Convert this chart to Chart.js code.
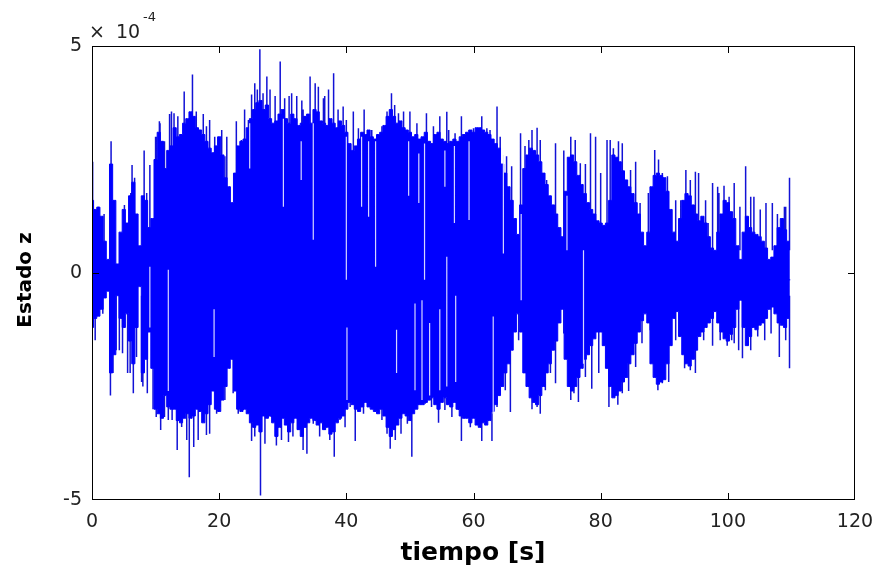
<!DOCTYPE html>
<html>
<head>
<meta charset="utf-8">
<script src="https://cdn.jsdelivr.net/npm/chart.js@4"></script>
<style>
html,body{margin:0;padding:0;background:#fff;}
#wrap{width:884px;height:577px;}
</style>
</head>
<body>
<div id="wrap"><canvas id="c" width="884" height="577"></canvas></div>
<script>
// values are in units of 1e-4 (axis multiplier shown as "× 10^-4")
const X_TICKS = [0, 20, 40, 60, 80, 100, 120];
const Y_TICKS = [-5, 0, 5];
const X_LABEL = 'tiempo [s]';
const Y_LABEL = 'Estado z';

// core band of the oscillation, one value every 0.5 s (t = 0 .. 109.5 s)
const DT = 0.5;
const envHi = [
  1.6,1.4,1.45,1.25,0.7,0.3,2.4,1.6,0.2,0.9, 1.4,1.1,1.7,2.0,1.3,0.6,1.7,1.6,1.0,1.2,
  2.5,3.1,2.9,2.3,2.7,2.8,3.2,3.0,3.05,3.3, 3.4,3.55,3.45,3.2,3.15,3.05,2.9,2.75,2.65,2.8,
  3.0,2.6,2.1,1.9,1.55,2.2,2.8,2.9,2.95,3.2, 3.4,3.6,3.75,3.8,3.6,3.7,3.4,3.3,3.35,3.5,
  3.6,3.4,3.3,3.5,3.4,3.25,3.3,3.45,3.5,3.3, 3.6,3.55,3.35,3.3,3.25,3.4,3.3,3.2,3.35,3.25,
  3.1,2.85,2.7,2.8,2.95,3.1,3.05,3.15,3.0,2.95, 3.05,3.1,3.25,3.45,3.6,3.45,3.3,3.35,3.2,3.15,
  3.1,3.0,3.05,2.95,3.0,3.1,2.9,2.85,3.05,3.1, 2.95,2.9,2.85,2.9,2.95,2.9,3.0,3.05,3.1,3.15,
  3.1,3.2,3.2,3.15,3.1,3.05,2.95,2.85,2.75,2.4, 2.2,1.9,1.6,1.2,0.85,1.5,2.3,2.6,2.75,2.7,
  2.6,2.45,2.2,1.95,1.7,1.5,1.3,1.0,0.8,1.8, 2.55,2.6,2.45,2.15,1.95,1.75,1.55,1.4,1.3,1.15,
  1.1,1.05,1.1,1.6,2.6,2.55,2.45,2.25,2.05,1.9, 1.75,1.55,1.3,0.9,0.6,0.9,1.9,2.15,2.2,2.15,
  2.1,1.8,1.4,0.9,0.7,1.2,1.6,1.75,1.7,1.5, 1.3,1.15,1.25,1.1,0.8,0.55,0.5,0.9,1.3,1.6,
  1.55,1.35,1.2,0.6,0.3,0.9,1.25,1.0,0.9,0.85, 0.8,0.7,0.55,0.3,0.35,0.6,1.0,1.2,0.95,0.7];
const envLo = [
  -1.2,-1.0,-0.95,-0.8,-0.55,-0.4,-2.2,-1.8,-0.5,-1.0, -1.2,-0.9,-1.5,-2.0,-1.2,-0.3,-2.2,-1.9,-1.3,-2.1,
  -3.0,-3.1,-3.2,-2.7,-2.95,-3.0,-3.0,-3.25,-3.3,-3.2, -3.1,-3.2,-3.15,-3.0,-3.05,-3.3,-3.1,-2.9,-2.6,-3.0,
  -3.05,-2.8,-2.5,-2.1,-1.9,-2.6,-3.0,-3.05,-3.0,-3.1, -3.3,-3.4,-3.35,-3.5,-3.15,-3.2,-3.15,-3.3,-3.6,-3.4,
  -3.2,-3.35,-3.5,-3.3,-3.2,-3.45,-3.6,-3.4,-3.3,-3.2, -3.25,-3.35,-3.3,-3.45,-3.4,-3.55,-3.5,-3.3,-3.2,-3.15,
  -3.0,-2.85,-2.9,-3.0,-3.05,-2.95,-2.85,-2.95,-3.0,-3.05, -3.1,-3.0,-3.15,-3.4,-3.6,-3.45,-3.35,-3.2,-3.1,-3.15,
  -3.25,-3.1,-3.0,-2.9,-2.9,-2.85,-2.8,-2.75,-2.9,-3.0, -2.85,-2.75,-2.9,-2.95,-2.85,-3.0,-3.15,-3.2,-3.2,-3.3,
  -3.2,-3.35,-3.4,-3.3,-3.35,-3.25,-3.05,-2.9,-2.7,-2.5, -2.2,-2.0,-1.7,-1.3,-0.9,-1.3,-2.2,-2.5,-2.75,-2.85,
  -2.9,-2.7,-2.5,-2.2,-2.0,-1.7,-1.5,-1.1,-0.8,-1.9, -2.5,-2.6,-2.5,-2.3,-2.1,-1.9,-1.8,-1.6,-1.45,-1.3,
  -1.3,-1.6,-2.1,-2.5,-2.75,-2.7,-2.6,-2.4,-2.3,-2.0, -1.8,-1.55,-1.3,-1.05,-0.9,-1.1,-2.0,-2.3,-2.45,-2.4,
  -2.35,-2.0,-1.6,-1.0,-0.85,-1.4,-1.8,-2.0,-2.05,-1.9, -1.7,-1.4,-1.3,-1.2,-1.1,-1.0,-0.85,-1.1,-1.3,-1.45,
  -1.5,-1.35,-1.2,-0.8,-0.6,-1.2,-1.6,-1.4,-1.2,-1.25, -1.15,-1.1,-1.0,-0.8,-0.75,-0.9,-1.1,-1.15,-1.2,-1.0];
const END_T = 109.8, END_V = -0.15;

// individual positive peaks standing out of the band (time s, value)
const upT = [0.1,1.0,1.9,3.0,5.1,6.1,6.3,6.7,8.2,8.6,9.1,10.0,10.1,10.6,10.7,11.2,11.4,12.2,12.5,12.9,13.5,14.5,15.1,15.8,16.4,17.5,18.0,18.5,19.3,
  20.4,20.9,21.2,21.7,22.7,23.5,24.0,24.6,25.1,25.6,26.0,26.4,26.9,27.5,28.0,28.8,29.6,30.3,31.0,31.4,32.2,33.0,33.2,34.3,35.1,35.6,36.4,36.6,37.2,38.0,38.7,39.5,40.0,
  41.1,41.9,42.8,44.0,45.6,46.4,47.1,47.6,48.2,49.0,50.0,51.1,52.6,53.7,54.7,55.8,56.1,57.1,58.1,60.0,
  61.3,62.1,62.6,63.7,64.2,65.2,66.0,67.4,68.1,68.7,69.2,70.0,70.5,71.5,72.9,74.2,75.3,76.0,76.8,77.6,78.4,79.2,80.0,81.0,
  81.5,82.0,82.8,83.4,84.1,84.7,85.5,86.2,87.5,88.5,89.1,89.7,90.5,91.8,92.6,93.4,94.1,94.9,95.4,96.5,96.9,97.6,98.4,98.6,99.4,99.9,100.2,101.0,101.9,
  102.8,103.6,104.1,105.1,106.0,107.0,107.8,108.9,109.1,109.7];
const upV = [2.45,1.46,1.3,2.9,1.5,1.76,2.38,2.1,2.7,1.76,2.38,3.0,3.0,3.34,3.3,2.8,2.9,3.5,3.56,3.52,3.45,4.0,3.37,4.37,3.56,3.5,3.23,3.37,3.0,
  3.15,2.57,3.0,1.9,3.34,2.93,3.6,3.37,3.93,4.18,4.04,4.93,3.96,4.33,4.04,3.9,4.66,3.85,3.9,3.96,3.9,3.8,3.6,4.33,4.18,4.1,3.85,3.9,4.04,4.4,3.6,3.67,3.37,
  3.56,3.19,3.6,3.15,3.23,3.56,3.96,3.7,3.52,3.56,3.56,3.3,3.52,3.23,3.45,3.55,3.15,3.08,3.45,3.19,
  3.45,3.19,3.15,3.67,3.0,2.57,2.35,3.08,2.8,2.93,3.15,3.2,2.93,2.05,2.86,2.7,3.0,2.93,2.42,2.4,3.08,3.0,2.2,2.93,
  2.93,2.75,2.9,2.86,2.05,2.27,2.45,1.54,1.76,2.71,2.5,2.2,2.13,1.6,1.6,2.27,2.05,2.23,2.2,1.6,1.1,1.98,1.9,1.76,1.92,1.46,1.68,1.98,1.46,
  2.35,1.68,1.68,1.4,1.54,1.54,1.3,1.46,1.46,2.1];
// individual negative peaks (time s, value)
const dnT = [0.2,0.5,1.7,2.9,3.3,3.8,4.3,4.8,5.6,6.0,6.5,7.0,7.8,8.0,8.7,9.6,10.1,10.8,11.4,12.0,12.6,13.4,14.1,14.9,15.3,16.0,16.7,17.5,18.0,18.5,19.6,
  20.1,20.9,22.2,23.0,23.8,25.1,25.6,26.5,27.2,28.2,29.0,29.8,30.9,31.6,32.4,33.2,33.8,34.8,35.8,36.6,37.4,38.1,39.0,39.8,
  40.6,41.4,42.7,44.3,45.6,46.4,46.9,47.7,48.6,49.6,50.3,52.4,53.4,54.5,55.5,56.6,57.6,58.1,59.5,60.5,
  61.3,62.1,62.9,63.7,65.0,65.8,67.1,68.1,69.2,70.0,70.5,71.3,72.1,72.9,74.2,75.3,75.8,76.5,77.6,78.6,79.7,81.3,
  82.7,83.4,84.4,85.5,86.5,87.8,89.0,89.7,90.7,91.8,93.2,94.1,94.9,96.2,97.6,98.8,99.9,100.6,101.0,101.7,
  102.3,103.6,104.7,105.8,106.8,108.1,109.1,109.7];
const dnV = [-1.18,-1.48,-0.9,-2.7,-2.2,-1.7,-1.7,-1.77,-2.2,-2.2,-2.65,-1.85,-2.4,-2.5,-2.65,-3.0,-3.17,-3.46,-3.17,-3.24,-3.24,-3.9,-3.39,-3.68,-4.5,-3.83,-3.68,-3.24,-3.57,-3.54,-3.1,
  -2.95,-2.8,-2.65,-3.1,-3.02,-3.7,-3.6,-4.9,-3.76,-3.17,-3.8,-3.68,-3.72,-3.6,-3.46,-3.9,-3.98,-3.32,-3.6,-3.46,-3.68,-4.05,-3.24,-3.4,
  -2.95,-3.7,-3.1,-2.8,-3.24,-3.54,-3.87,-3.68,-3.54,-3.32,-4.05,-2.88,-2.95,-3.3,-3.02,-3.17,-3.02,-3.7,-3.4,-3.32,
  -3.7,-3.17,-3.7,-2.95,-2.58,-3.06,-1.48,-2.2,-3.0,-2.95,-3.1,-2.58,-2.2,-2.43,-1.33,-2.8,-2.65,-2.84,-2.29,-2.55,-2.2,-2.95,
  -2.9,-2.65,-2.6,-2.07,-1.55,-1.26,-2.58,-2.43,-2.4,-1.48,-2.1,-2.14,-2.2,-1.48,-1.6,-1.48,-1.6,-1.48,-1.55,-1.7,
  -1.88,-1.7,-1.4,-1.48,-1.33,-1.85,-1.48,-2.1];

// light gaps seen inside the band (time s, upper value, lower value)
const gapT  = [9.1,12.0,19.2,24.8,30.1,32.9,34.8,40.0,40.1,42.4,43.5,44.6,47.9,49.8,50.8,51.4,51.9,52.3,53.1,54.7,55.5,55.8,57.0,57.2,59.3,63.1,64.7,67.5,74.7,77.3];
const gapHi = [0.14,0.07,-0.8,3.3,3.4,2.9,3.3,3.0,-1.2,3.0,2.9,2.9,-1.25,2.9,-0.67,2.63,-0.6,2.85,-1.1,-0.8,2.7,0.36,2.8,-0.5,2.9,-0.96,2.6,1.3,1.7,0.5];
const gapLo = [-1.2,-2.6,-1.85,2.3,1.46,2.05,0.73,-0.15,-2.8,1.46,1.24,0.14,-2.2,1.7,-2.58,1.54,-2.8,-0.15,-2.7,-2.58,1.9,-2.5,1.1,-2.4,1.17,-3.1,0.43,-0.6,0.5,-2.0];

const BLUE = '#0000ff';
const PEAK = '#1212d6';
const FONT = '"DejaVu Sans", "Liberation Sans", sans-serif';

const hiPts = envHi.map((v, i) => ({x: i * DT, y: v})).concat([{x: END_T, y: END_V}]);
const loPts = envLo.map((v, i) => ({x: i * DT, y: v})).concat([{x: END_T, y: END_V}]);
function segs(ts, a, b) {
  const out = [];
  ts.forEach((t, i) => {
    out.push({x: t, y: a(i)}, {x: t, y: b(i)}, {x: t, y: null});
  });
  return out;
}
const upPts = segs(upT, () => 0.5, i => upV[i]);
const dnPts = segs(dnT, () => -0.5, i => dnV[i]);
const gapPts = segs(gapT, i => gapHi[i], i => gapLo[i]);

const framePlugin = {
  id: 'frame',
  afterDraw(chart) {
    const ctx = chart.ctx, a = chart.chartArea;
    const xs = chart.scales.x, ys = chart.scales.y;
    const L = Math.round(a.left), R = Math.round(a.right), T = Math.round(a.top), B = Math.round(a.bottom);
    ctx.save();
    ctx.fillStyle = '#000';
    ctx.fillRect(L, T, R - L, 1);
    ctx.fillRect(L, B - 1, R - L, 1);
    ctx.fillRect(L, T, 1, B - T);
    ctx.fillRect(R - 1, T, 1, B - T);
    X_TICKS.forEach(v => {
      const px = Math.round(xs.getPixelForValue(v));
      ctx.fillRect(Math.min(px, R - 1), B - 7, 1, 7);
      ctx.fillRect(Math.min(px, R - 1), T, 1, 7);
    });
    Y_TICKS.forEach(v => {
      const py = Math.round(ys.getPixelForValue(v));
      const yy = Math.max(T, Math.min(py, B - 1));
      ctx.fillRect(L, yy, 7, 1);
      ctx.fillRect(R - 7, yy, 7, 1);
    });

    ctx.fillStyle = '#222';
    ctx.textBaseline = 'alphabetic';
    ctx.textAlign = 'left';
    ctx.font = '19px ' + FONT;
    ctx.fillText('\u00d7', 89, 38);
    ctx.fillText('10', 116, 38);
    ctx.font = '13px ' + FONT;
    ctx.fillText('-4', 143, 21);

    ctx.fillStyle = '#000';
    ctx.textAlign = 'center';
    ctx.textBaseline = 'middle';
    ctx.font = 'bold 25px ' + FONT;
    ctx.fillText(X_LABEL, 473, 553);
    ctx.translate(26, 280);
    ctx.rotate(-Math.PI / 2);
    ctx.font = 'bold 20px ' + FONT;
    ctx.fillText(Y_LABEL, 0, 0);
    ctx.restore();
  }
};

new Chart(document.getElementById('c'), {
  type: 'line',
  data: {
    datasets: [
      {data: gapPts, borderColor: 'rgba(235,235,255,0.9)', borderWidth: 1.2, pointRadius: 0, fill: false, spanGaps: false, order: -1},
      {data: hiPts, borderColor: BLUE, backgroundColor: BLUE, borderWidth: 1, pointRadius: 0, fill: '+1', stepped: 'middle', order: 0},
      {data: loPts, borderColor: BLUE, borderWidth: 1, pointRadius: 0, fill: false, stepped: 'middle', order: 1},
      {data: upPts, borderColor: PEAK, borderWidth: 1.5, pointRadius: 0, fill: false, spanGaps: false, order: 2},
      {data: dnPts, borderColor: PEAK, borderWidth: 1.5, pointRadius: 0, fill: false, spanGaps: false, order: 3}
    ]
  },
  options: {
    responsive: false,
    animation: false,
    devicePixelRatio: 1,
    layout: {padding: {left: 0, right: 29, top: 46, bottom: 0}},
    plugins: {legend: {display: false}, tooltip: {enabled: false}},
    scales: {
      x: {
        type: 'linear', min: 0, max: 120,
        afterFit(s) { s.height = 77; },
        afterBuildTicks(s) { s.ticks = X_TICKS.map(v => ({value: v})); },
        grid: {display: false, drawTicks: false},
        border: {display: false},
        ticks: {color: '#222', font: {family: FONT, size: 19, lineHeight: 1.5}, padding: 8, maxRotation: 0, autoSkip: false}
      },
      y: {
        type: 'linear', min: -5, max: 5,
        afterFit(s) { s.width = 92; },
        afterBuildTicks(s) { s.ticks = Y_TICKS.map(v => ({value: v})); },
        grid: {display: false, drawTicks: false},
        border: {display: false},
        ticks: {color: '#222', font: {family: FONT, size: 19}, padding: 10}
      }
    }
  },
  plugins: [framePlugin]
});
</script>
</body>
</html>
